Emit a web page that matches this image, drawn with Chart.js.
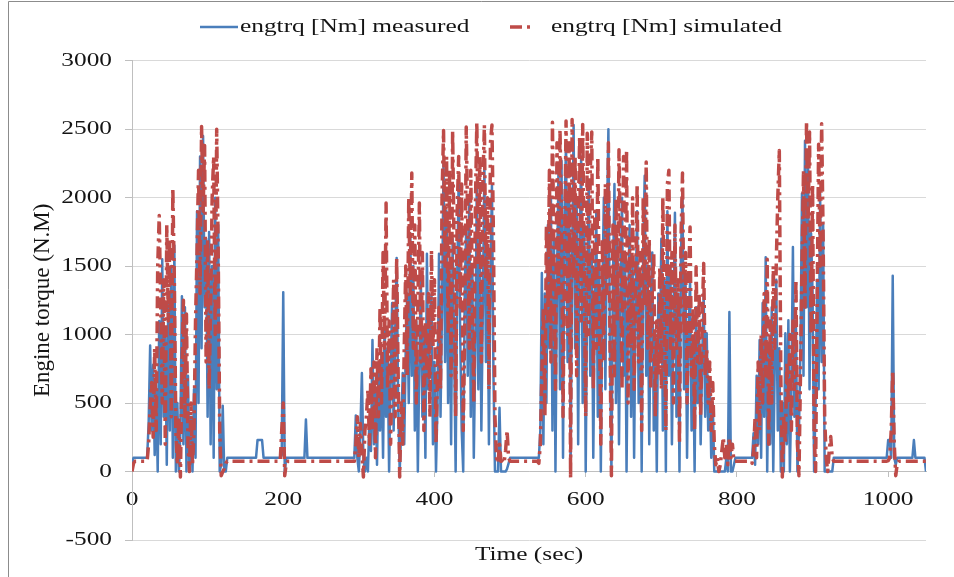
<!DOCTYPE html>
<html>
<head>
<meta charset="utf-8">
<script src="https://cdn.jsdelivr.net/npm/chart.js@4.4.1/dist/chart.umd.min.js"></script>
<style>
  html, body { margin: 0; padding: 0; background: #ffffff; }
  #wrap { width: 954px; height: 577px; position: relative; }
</style>
</head>
<body>
<div id="wrap"><canvas id="c" width="954" height="577"></canvas></div>
<script>
// ---------------- DATA ----------------
const timeStep = 2; // seconds between samples (first sample at t = 0 s)

// engine torque, measured [Nm] (one row = 20 s)
const measured = [
  60,100,100,100,100,100,100,100,100,100,
  100,350,920,300,780,120,600,0,1100,200,
  1550,400,1000,50,1300,300,1500,100,1650,0,
  500,0,300,1280,200,1200,0,700,0,400,
  0,600,100,1900,500,2300,900,2450,1200,1700,
  400,1750,200,1500,100,2000,600,1800,0,50,
  480,0,0,100,100,100,100,100,100,100,
  100,100,100,100,100,100,100,100,100,100,
  100,100,100,230,230,230,230,100,100,100,
  100,100,100,100,100,100,100,100,100,120,
  1310,0,100,100,100,100,100,100,100,100,
  100,100,100,100,100,380,100,100,100,100,
  100,100,100,100,100,100,100,100,100,100,
  100,100,100,100,100,100,100,100,100,100,
  100,100,100,100,100,100,100,100,410,100,
  0,300,720,100,0,100,0,400,150,960,
  200,600,50,750,300,850,100,1100,400,900,
  0,700,1230,300,1000,1560,500,0,300,720,
  200,900,1300,500,1740,700,1500,300,1100,0,
  800,1400,400,1000,100,1590,600,1100,1290,200,
  800,0,500,1590,400,1200,2270,800,1900,500,
  1500,200,1700,900,0,1400,2130,1000,300,0,
  1300,1800,700,2000,400,1500,100,900,2100,600,
  1700,300,1200,2250,800,1600,200,1400,2090,700,
  0,0,0,465,0,0,0,0,20,60,
  100,100,100,100,100,100,100,100,100,100,
  100,100,100,100,100,100,100,100,100,100,
  300,1450,200,1300,500,1800,900,2000,300,1700,
  0,1400,2200,600,2270,100,1900,2400,800,2100,
  0,1500,2530,900,2000,200,1700,2300,500,1800,
  0,1400,2100,700,1600,100,1200,1900,400,1500,
  0,1300,2000,600,1800,2500,900,0,1400,2100,
  500,1700,200,1300,2000,700,1600,0,1200,1800,
  400,1500,100,1300,1900,500,1400,0,1600,2160,
  700,1500,200,1200,1600,300,1000,0,1300,800,
  1700,300,1400,0,1900,700,1500,200,1100,1890,
  400,1300,0,1600,2030,600,1400,100,1000,1400,
  300,900,0,1200,500,1000,200,800,1300,400,
  1010,300,690,100,500,0,0,0,0,0,
  0,0,0,100,0,1165,0,0,50,100,
  100,100,100,100,100,100,100,100,100,100,
  100,280,50,700,200,960,100,1230,400,1565,
  0,900,200,1200,0,800,1400,300,900,0,
  500,0,1010,200,1105,0,600,1640,400,1100,
  0,300,900,2030,700,2415,1200,2300,600,1740,
  1300,0,500,1400,600,2030,800,1800,0,0,
  0,0,0,0,100,100,100,100,100,100,
  100,100,100,100,100,100,100,100,100,100,
  100,100,100,100,100,100,100,100,100,100,
  100,100,100,100,100,100,100,100,100,100,
  230,230,100,1430,100,50,100,100,100,100,
  100,100,100,100,100,100,100,230,100,100,
  100,100,100,100,100,0
];

// engine torque, simulated [Nm] (one row = 20 s)
const simulated = [
  0,60,75,75,75,75,75,75,75,75,
  75,200,480,650,250,900,300,1500,1870,1200,
  500,1400,200,1800,1100,1700,400,2070,1400,300,
  50,400,-40,700,1250,400,1150,200,0,500,
  50,300,1100,1600,2200,1300,2520,1900,2380,800,
  1700,600,1200,2000,2300,1000,2500,1600,300,-30,
  0,20,60,75,75,75,75,75,75,75,
  75,75,75,75,75,75,75,75,75,75,
  75,75,75,75,75,75,75,75,75,75,
  75,75,75,75,75,75,75,75,75,300,
  500,-30,60,75,75,75,75,75,75,75,
  75,75,75,75,75,75,75,75,75,75,
  75,75,75,75,75,75,75,75,75,75,
  75,75,75,75,75,75,75,75,75,75,
  75,75,75,75,75,75,75,75,200,400,
  100,350,150,-40,300,400,600,200,750,300,
  800,100,900,400,1200,500,1600,900,1960,600,
  1100,200,800,1400,400,1560,700,-40,500,200,
  900,1500,700,2000,1300,2180,900,1800,500,1200,
  1960,800,1600,300,1100,700,1300,400,1615,900,
  1400,200,700,1200,600,2000,2490,1500,2300,1000,
  2200,700,2490,1600,400,1900,2300,1200,2100,300,
  1000,2515,1800,900,2200,1300,500,1900,2550,1500,
  2300,800,2100,2530,1400,2000,600,2400,2530,1700,
  400,100,60,200,75,75,60,150,300,100,
  75,75,75,75,75,75,75,75,75,75,
  75,75,75,75,75,75,75,75,75,60,
  200,700,1200,400,1800,1100,2200,800,2550,1500,
  600,2400,1300,2500,1800,400,1600,2560,1000,2400,
  -50,2570,1400,2300,700,1800,2450,1100,2535,1500,
  400,2470,1000,2200,2480,600,1900,900,2300,1200,
  200,1700,800,2100,1300,2400,1000,-30,1800,700,
  2000,1100,2350,1600,600,2300,1200,2350,500,1700,
  900,2000,600,1400,2100,800,1600,300,2000,1200,
  2260,900,1700,600,1300,1590,400,1100,700,1500,
  600,2000,1100,300,2100,2200,900,1600,500,1800,
  900,1400,200,1700,2180,1000,1600,500,1400,1785,
  700,1200,300,1495,800,1300,400,1100,1520,700,
  900,500,800,300,650,200,50,100,0,50,
  150,250,100,200,50,250,100,200,75,75,
  75,75,75,75,75,75,75,75,75,75,
  60,150,400,100,800,300,1000,500,1300,700,
  1550,200,1100,500,1500,900,1520,2000,2345,700,
  -40,400,200,800,500,1000,300,1100,600,1400,
  200,-30,700,1500,2200,1200,2560,1800,2480,1000,
  2100,300,0,1200,2390,1500,2540,1700,400,100,
  0,150,255,100,75,75,75,75,75,75,
  75,75,75,75,75,75,75,75,75,75,
  75,75,75,75,75,75,75,75,75,75,
  75,75,75,75,75,75,75,75,75,75,
  80,100,300,740,200,-30,60,75,75,75,
  75,75,75,75,75,75,75,75,75,75,
  75,75,75,75,75,75
];

const seriesNames = ['engtrq [Nm] measured', 'engtrq [Nm] simulated'];
const xTicks = [0, 200, 400, 600, 800, 1000];
const yTicks = [-500, 0, 500, 1000, 1500, 2000, 2500, 3000];
const xTitle = 'Time (sec)';
const yTitle = 'Engine torque (N.M)';

// ---------------- STYLE ----------------
const FONT = 'Liberation Serif';
const TEXT = '#141414';
const TEXT_SIZE = 19.5;
const TEXT_STRETCH = 1.3; // the reference typography is horizontally widened

const canvas = document.getElementById('c');
const ctx2d = canvas.getContext('2d');
// widen horizontal text (rotated text is left as is)
(function () {
  const rawFill = ctx2d.fillText.bind(ctx2d);
  const rawMeasure = ctx2d.measureText.bind(ctx2d);
  ctx2d.fillText = function (text, x, y, maxWidth) {
    const m = this.getTransform();
    if (Math.abs(m.b) > 1e-6 || Math.abs(m.c) > 1e-6) {
      return maxWidth === undefined ? rawFill(text, x, y) : rawFill(text, x, y, maxWidth);
    }
    this.save();
    this.translate(x, y);
    this.scale(TEXT_STRETCH, 1);
    if (maxWidth === undefined) rawFill(text, 0, 0);
    else rawFill(text, 0, 0, maxWidth / TEXT_STRETCH);
    this.restore();
  };
  ctx2d.measureText = function (text) {
    const r = rawMeasure(text);
    return {
      width: r.width * TEXT_STRETCH,
      actualBoundingBoxAscent: r.actualBoundingBoxAscent,
      actualBoundingBoxDescent: r.actualBoundingBoxDescent,
      actualBoundingBoxLeft: r.actualBoundingBoxLeft * TEXT_STRETCH,
      actualBoundingBoxRight: r.actualBoundingBoxRight * TEXT_STRETCH
    };
  };
})();

const toPoints = arr => arr.map((v, i) => ({ x: i * timeStep, y: v }));

const framePlugin = {
  id: 'frame',
  beforeDraw(chart) {
    const c = chart.ctx;
    c.save();
    c.fillStyle = '#ffffff';
    c.fillRect(0, 0, chart.width, chart.height);
    c.strokeStyle = '#8c8c8c';
    c.lineWidth = 1;
    c.beginPath();
    c.moveTo(8.5, chart.height);
    c.lineTo(8.5, 1.5);
    c.lineTo(chart.width, 1.5);
    c.stroke();
    c.restore();
  }
};

// legend drawn in the reference's spacing, styled from the datasets
const legendLayout = [
  { lineFrom: 200, lineTo: 238, textAt: 240 },
  { lineFrom: 510, lineTo: 533, textAt: 551 }
];
const legendPlugin = {
  id: 'refLegend',
  afterDraw(chart) {
    const c = chart.ctx;
    const yMid = 27;
    chart.data.datasets.forEach((ds, i) => {
      const L = legendLayout[i];
      c.save();
      c.strokeStyle = ds.borderColor;
      c.lineWidth = ds.borderWidth;
      c.setLineDash(ds.borderDash || []);
      c.lineCap = 'butt';
      c.beginPath();
      c.moveTo(L.lineFrom, yMid);
      c.lineTo(L.lineTo, yMid);
      c.stroke();
      c.setLineDash([]);
      c.fillStyle = TEXT;
      c.font = TEXT_SIZE + 'px "' + FONT + '"';
      c.textAlign = 'left';
      c.textBaseline = 'middle';
      c.fillText(ds.label, L.textAt, yMid);
      c.restore();
    });
  }
};

new Chart(canvas, {
  type: 'line',
  data: {
    datasets: [
      {
        label: seriesNames[0],
        data: toPoints(measured),
        borderColor: '#4a7ebb',
        backgroundColor: '#4a7ebb',
        borderWidth: 2.5,
        borderJoinStyle: 'round',
        pointRadius: 0,
        tension: 0,
        order: 1,
        xAxisID: 'x',
        yAxisID: 'y'
      },
      {
        label: seriesNames[1],
        data: toPoints(simulated),
        borderColor: '#be4b48',
        backgroundColor: '#be4b48',
        borderWidth: 3.5,
        borderDash: [12, 5, 3, 5],
        borderJoinStyle: 'round',
        pointRadius: 0,
        tension: 0,
        order: 0,
        xAxisID: 'x',
        yAxisID: 'y'
      }
    ]
  },
  options: {
    responsive: false,
    animation: false,
    events: [],
    layout: { padding: { top: 60.7, right: 28, bottom: 0, left: 0 } },
    plugins: {
      legend: { display: false },
      title: { display: false },
      tooltip: { enabled: false }
    },
    scales: {
      x: {
        type: 'linear',
        min: 0,
        max: 1050,
        position: { y: 0 },
        afterBuildTicks: s => { s.ticks = xTicks.map(v => ({ value: v })); },
        grid: { drawOnChartArea: false, drawTicks: true, tickLength: 5, tickColor: '#bfbfbf' },
        border: { display: true, color: '#bfbfbf', width: 1 },
        ticks: {
          color: TEXT, font: { family: FONT, size: TEXT_SIZE }, padding: 12,
          maxRotation: 0, autoSkip: false, callback: v => String(v)
        }
      },
      x2: {
        type: 'linear',
        min: 0,
        max: 1050,
        position: 'bottom',
        grid: { display: false },
        border: { display: false },
        ticks: { display: false },
        afterFit: s => { s.height = 37; },
        title: { display: true, text: xTitle, color: TEXT, font: { family: FONT, size: TEXT_SIZE }, padding: { top: 0, bottom: 10 } }
      },
      y: {
        type: 'linear',
        min: -500,
        max: 3000,
        afterBuildTicks: s => { s.ticks = yTicks.map(v => ({ value: v })); },
        afterFit: s => { s.width = 132; },
        grid: { color: '#d9d9d9', lineWidth: 1, drawTicks: true, tickLength: 7, tickColor: '#bfbfbf' },
        border: { display: true, color: '#bfbfbf', width: 1 },
        ticks: { color: TEXT, font: { family: FONT, size: TEXT_SIZE }, padding: 13, callback: v => String(v) },
        title: { display: true, text: yTitle, color: TEXT, font: { family: FONT, size: 23 }, padding: { top: 29, bottom: 0 } }
      }
    }
  },
  plugins: [framePlugin, legendPlugin]
});
</script>
</body>
</html>
